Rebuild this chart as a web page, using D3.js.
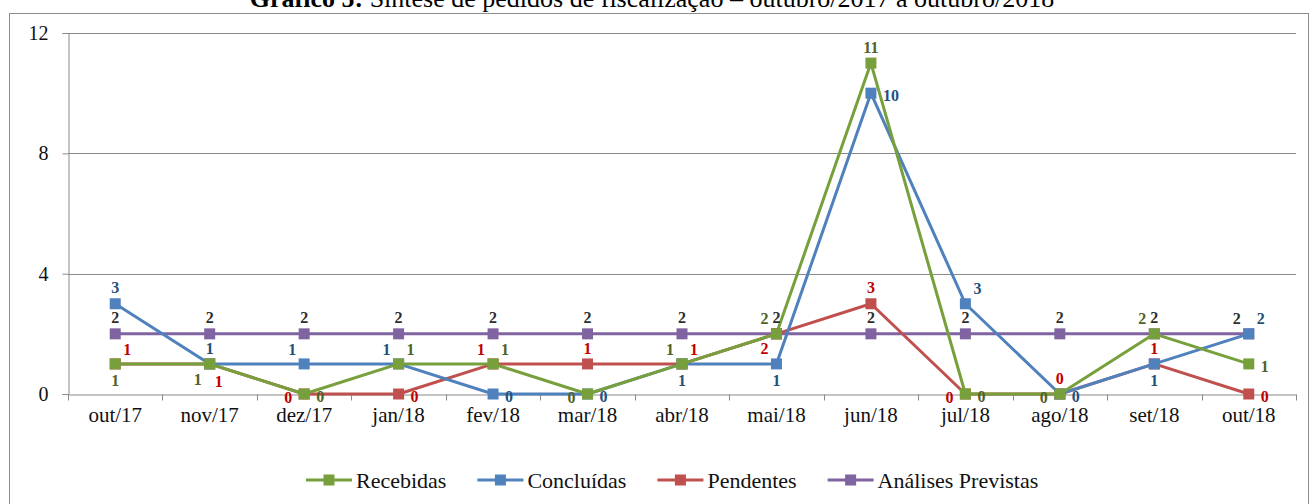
<!DOCTYPE html>
<html>
<head>
<meta charset="utf-8">
<script src="https://cdn.jsdelivr.net/npm/d3@7"></script>
<style>
  body { margin: 0; background: #fff; }
  svg text { font-family: 'Liberation Serif', 'Times New Roman', 'DejaVu Serif', serif; }
</style>
</head>
<body>
<div id="chart"></div>
<script>
// data
var months = ["out/17", "nov/17", "dez/17", "jan/18", "fev/18", "mar/18", "abr/18",
              "mai/18", "jun/18", "jul/18", "ago/18", "set/18", "out/18"];
var recebidas  = [1, 1, 0, 1, 1, 0, 1, 2, 11, 0, 0, 2, 1];
var concluidas = [3, 1, 1, 1, 0, 0, 1, 1, 10, 3, 0, 1, 2];
var pendentes  = [1, 1, 0, 0, 1, 1, 1, 2, 3, 0, 0, 1, 0];
var previstas  = [2, 2, 2, 2, 2, 2, 2, 2, 2, 2, 2, 2, 2];
var yTicks = [0, 4, 8, 12];

// where each data label sits relative to its marker
var posRec  = ["b", "bl", "r", "tr", "tr", "l", "tl", "tl", "t", "r", "l", "tl", "r"];
var posConc = ["t", "t", "tl", "tl", "r", "r", "b", "b", "r", "tr", "r", "b", "tr"];
var posPend = ["tr", "br", "l", "r", "tl", "t", "tr", "bl", "t", "l", "t", "t", "r"];
var posPrev = ["t", "t", "t", "t", "t", "t", "t", "t", "t", "t", "t", "t", "tl"];

var series = [
  { name: "Recebidas", values: recebidas, pos: posRec, color: "#77a03c", text: "#4f6228" },
  { name: "Concluídas", values: concluidas, pos: posConc, color: "#4f81bd", text: "#24507a" },
  { name: "Pendentes", values: pendentes, pos: posPend, color: "#c0504d", text: "#c00000" },
  { name: "Análises Previstas", values: previstas, pos: posPrev, color: "#8064a2", text: "#2d2d2d" }
];

var width = 1311, height = 504;
var plot = { left: 68, right: 1296, top: 33, bottom: 394 };
var serifFont = "'Liberation Serif', 'Times New Roman', 'DejaVu Serif', serif";

var svg = d3.select("#chart").append("svg")
  .attr("width", width)
  .attr("height", height)
  .attr("font-family", serifFont);

// outer frame
svg.append("rect")
  .attr("x", 9.5).attr("y", 13.5)
  .attr("width", 1299).attr("height", 500)
  .attr("fill", "none")
  .attr("stroke", "#8c8c8c")
  .attr("stroke-width", 1);

// title (cut off at the top like in the source)
var title = svg.append("text")
  .attr("x", 652).attr("y", 7)
  .attr("text-anchor", "middle")
  .style("font-size", "26px");
title.append("tspan").attr("font-weight", "bold").text("Gráfico 5: ");
title.append("tspan").text("Síntese de pedidos de fiscalização – outubro/2017 a outubro/2018");

var x = d3.scaleBand()
  .domain(months)
  .range([plot.left, plot.right]);
var y = d3.scaleLinear()
  .domain([0, 12])
  .range([plot.bottom, plot.top]);

function cx(i) { return x(months[i]) + x.bandwidth() / 2; }

// gridlines
svg.append("g")
  .selectAll("line")
  .data(yTicks.filter(function(d) { return d > 0; }))
  .enter().append("line")
  .attr("x1", plot.left).attr("x2", plot.right)
  .attr("y1", function(d) { return Math.round(y(d)) + 0.5; })
  .attr("y2", function(d) { return Math.round(y(d)) + 0.5; })
  .attr("stroke", "#8a8a8a");

// y axis
var yAxis = svg.append("g")
  .attr("transform", "translate(" + (plot.left + 0.5) + ",0)")
  .call(d3.axisLeft(y).tickValues(yTicks).tickSize(6).tickPadding(14).tickFormat(d3.format("d")));
yAxis.attr("font-family", serifFont).attr("font-size", 20);
yAxis.select(".domain").attr("stroke", "#8a8a8a");
yAxis.selectAll(".tick line").attr("stroke", "#8a8a8a");
yAxis.selectAll("text").attr("fill", "#111");

// x axis
var xAxis = svg.append("g")
  .attr("transform", "translate(0," + (plot.bottom + 0.5) + ")")
  .call(d3.axisBottom(x).tickSize(0).tickPadding(13));
xAxis.attr("font-family", serifFont).attr("font-size", 21);
xAxis.select(".domain").attr("stroke", "#8a8a8a");
xAxis.selectAll("text").attr("fill", "#111");
// tick marks between categories
xAxis.selectAll(".sep")
  .data(d3.range(months.length + 1))
  .enter().append("line")
  .attr("x1", function(i) { return Math.round(plot.left + i * x.step()) + 0.5; })
  .attr("x2", function(i) { return Math.round(plot.left + i * x.step()) + 0.5; })
  .attr("y1", 0).attr("y2", 6)
  .attr("stroke", "#8a8a8a");

var line = d3.line()
  .x(function(d, i) { return cx(i); })
  .y(function(d) { return y(d); });

var offsets = {
  t:  { dx: 0,   dy: -16, anchor: "middle" },
  b:  { dx: 0,   dy: 16,  anchor: "middle" },
  l:  { dx: -12, dy: 3,   anchor: "end" },
  r:  { dx: 12,  dy: 2,   anchor: "start" },
  tl: { dx: -12, dy: -15, anchor: "middle" },
  tr: { dx: 12,  dy: -15, anchor: "middle" },
  bl: { dx: -12, dy: 15,  anchor: "middle" },
  br: { dx: 9,   dy: 17,  anchor: "middle" }
};

// draw in reverse so Recebidas sits on top like the reference
var order = [3, 2, 1, 0];
order.forEach(function(k) {
  var s = series[k];
  var g = svg.append("g");
  g.append("path")
    .datum(s.values)
    .attr("fill", "none")
    .attr("stroke", s.color)
    .attr("stroke-width", 3)
    .attr("stroke-linejoin", "round")
    .attr("d", line);
  g.selectAll("rect")
    .data(s.values)
    .enter().append("rect")
    .attr("x", function(d, i) { return cx(i) - 5.5; })
    .attr("y", function(d) { return y(d) - 5.5; })
    .attr("width", 11).attr("height", 11)
    .attr("fill", s.color);
});

order.forEach(function(k) {
  var s = series[k];
  svg.append("g").selectAll("text")
    .data(s.values)
    .enter().append("text")
    .attr("x", function(d, i) { return cx(i) + offsets[s.pos[i]].dx; })
    .attr("y", function(d, i) { return y(d) + offsets[s.pos[i]].dy; })
    .attr("dy", "0.35em")
    .attr("text-anchor", function(d, i) { return offsets[s.pos[i]].anchor; })
    .attr("fill", s.text)
    .attr("font-weight", "bold")
    .style("font-size", "16px")
    .text(function(d) { return d; });
});

// legend, laid out left to right by measured text width
var legend = svg.append("g");
var lx = 306;
series.forEach(function(s) {
  var lg = legend.append("g").attr("transform", "translate(" + lx + ",480)");
  lg.append("line").attr("x1", 0).attr("x2", 46).attr("y1", 0).attr("y2", 0)
    .attr("stroke", s.color).attr("stroke-width", 3);
  lg.append("rect").attr("x", 17.5).attr("y", -5.5).attr("width", 11).attr("height", 11)
    .attr("fill", s.color);
  var t = lg.append("text").attr("x", 50).attr("y", 0).attr("dy", "0.35em")
    .style("font-size", "22px").attr("fill", "#111")
    .text(s.name);
  lx += 50 + t.node().getComputedTextLength() + 31;
});
</script>
</body>
</html>
